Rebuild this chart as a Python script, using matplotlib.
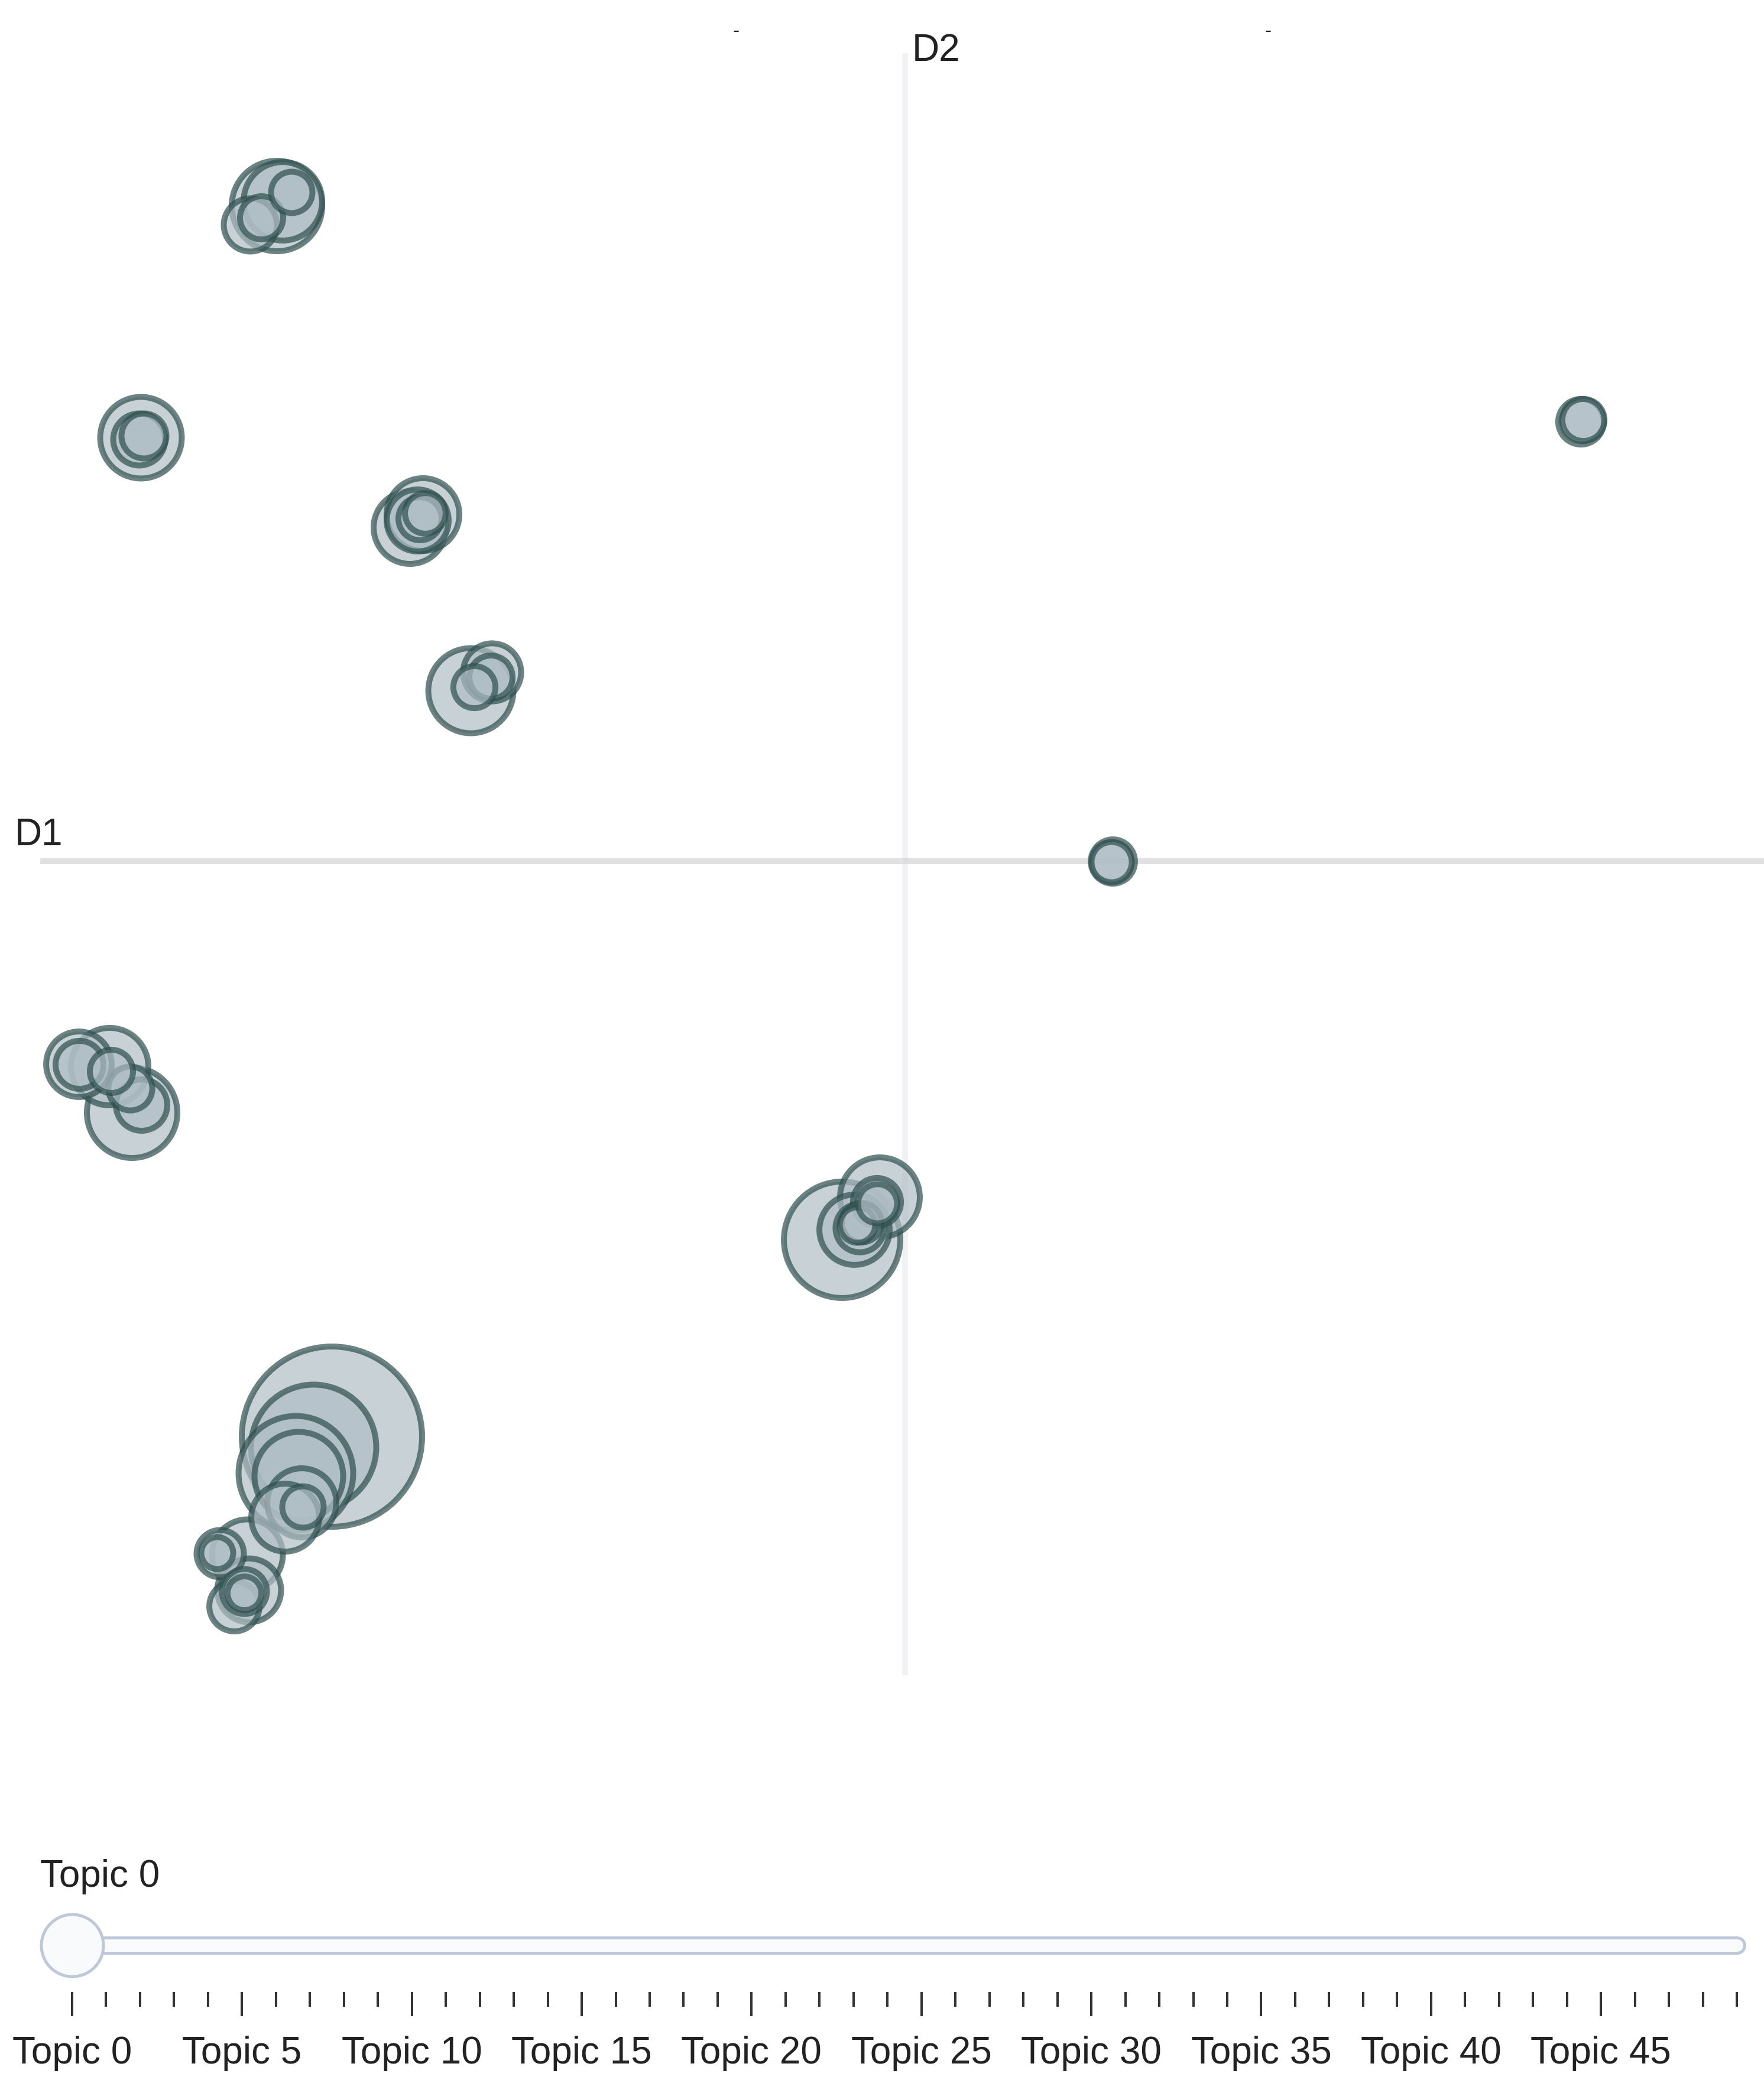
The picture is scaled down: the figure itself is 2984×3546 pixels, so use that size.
import numpy as np
import matplotlib
matplotlib.use("Agg")
import matplotlib.pyplot as plt

plt.rcParams['font.family'] = ['Liberation Sans', 'DejaVu Sans']

# topic coordinates (2D embedding) and topic frequencies
topic_x = [-9.70, -10.01, -10.31, -1.07, -10.63, -13.08, -10.26, -7.35, -12.93, -0.43,
           -10.53, -13.46, -8.38, -8.16, -11.13, -0.86, -10.21, -10.49, -13.98, -11.10,
           -8.25, -6.99, -11.08, -11.35, -12.92, -12.96, -0.77, -0.48, -13.97, -11.59,
           11.43, -11.18, -12.88, 3.51, -13.11, -10.89, -8.21, -13.43, -7.01, -7.29,
           11.47, -10.38, -10.19, -8.12, 3.49, -0.74, -0.81, -11.18, -11.64, -0.47]
topic_y = [-9.73, -9.91, -10.35, -6.40, 11.09, -4.25, -10.40, 2.89, 7.17, -5.68,
           11.17, -3.47, 5.65, 5.87, -11.73, -6.23, -10.85, -11.10, -3.43, -12.33,
           5.77, 3.20, 10.77, -12.60, -4.12, 7.14, -6.20, -5.76, -3.44, -11.71,
           7.44, -12.35, 7.20, 0.00, -3.84, 10.89, 5.80, -3.55, 3.12, 2.95,
           7.47, 11.32, -10.92, 5.89, -0.01, -6.11, -6.15, -12.38, -11.70, -5.79]
topic_freq = [992, 493, 416, 428, 266, 266, 256, 237, 219, 210,
              204, 199, 177, 177, 169, 166, 161, 156, 146, 139,
              132, 117, 100, 90, 94, 96, 85, 83, 83, 81,
              76, 74, 74, 72, 71, 69, 69, 69, 69, 66,
              66, 64, 64, 62, 61, 59, 49, 45, 41, 58]
topics = list(range(len(topic_freq)))
slider_labels = ["Topic %d" % t for t in topics]

W, H, DPI = 2984, 3546, 200
fig = plt.figure(figsize=(W / DPI, H / DPI), dpi=DPI)
px2pt = 72 / DPI

# main intertopic map
ax = fig.add_axes([68 / W, (H - 2834) / H, 2916 / W, 2744 / H])
x_range = (-14.63, 14.53)
y_range = (-13.77, 13.67)
ax.set_xlim(x_range)
ax.set_ylim(y_range)
ax.axis("off")

ax.axhline(0, color="#9E9E9E", alpha=0.3, lw=10 * px2pt, zorder=1)
ax.axvline(0, color="#CFD8DC", alpha=0.3, lw=10 * px2pt, zorder=1)

edge_px = 10
diam_px = 10 * np.sqrt(np.array(topic_freq, dtype=float))
sizes = ((diam_px - edge_px) * px2pt) ** 2
for i in topics:
    ax.scatter(topic_x[i], topic_y[i], s=sizes[i], facecolor="#B0BEC5",
               edgecolor="#2F4F4F", linewidths=edge_px * px2pt, alpha=0.7,
               zorder=2 + i)

# overlay in pixel units for labels
ov = fig.add_axes([0, 0, 1, 1])
ov.set_xlim(0, W)
ov.set_ylim(H, 0)
ov.axis("off")
ov.patch.set_alpha(0)
txt = "#222222"
fs = 23
ov.text(1543, 103, "D2", fontsize=fs, color=txt, va="baseline", ha="left")
ov.text(25, 1430, "D1", fontsize=fs, color=txt, va="baseline", ha="left")
ov.text(1245, 54, "-", fontsize=12, color=txt, ha="center", va="center")
ov.text(2145, 54, "-", fontsize=12, color=txt, ha="center", va="center")
ov.text(68, 3192, slider_labels[0], fontsize=fs, color=txt, va="baseline", ha="left")

# slider (x in topic units, y in pixels)
sl = fig.add_axes([0, 0, 1, 1])
step = 57.47
sl.set_xlim(-122 / step, (W - 122) / step)
sl.set_ylim(H, 0)
sl.axis("off")
sl.patch.set_alpha(0)
rail_y = 3291
sl.plot([topics[0], topics[-1]], [rail_y, rail_y], color="#BEC8D9",
        lw=31 * px2pt, solid_capstyle="round", zorder=1)
sl.plot([topics[0], topics[-1]], [rail_y, rail_y], color="#F8FAFC",
        lw=21 * px2pt, solid_capstyle="round", zorder=2)
sl.scatter([topics[0]], [rail_y], s=((110 - 5) * px2pt) ** 2, facecolor="#F8FAFC",
           edgecolor="#BEC8D9", linewidths=5 * px2pt, zorder=3)
for t in topics:
    y1 = 3409 if t % 5 == 0 else 3393
    sl.plot([t, t], [3372, y1], color="#333333", lw=4 * px2pt)
    if t % 5 == 0:
        sl.text(t, 3491, slider_labels[t], fontsize=fs, color=txt,
                ha="center", va="baseline")

fig.savefig("out.png", dpi=DPI, facecolor="white")
